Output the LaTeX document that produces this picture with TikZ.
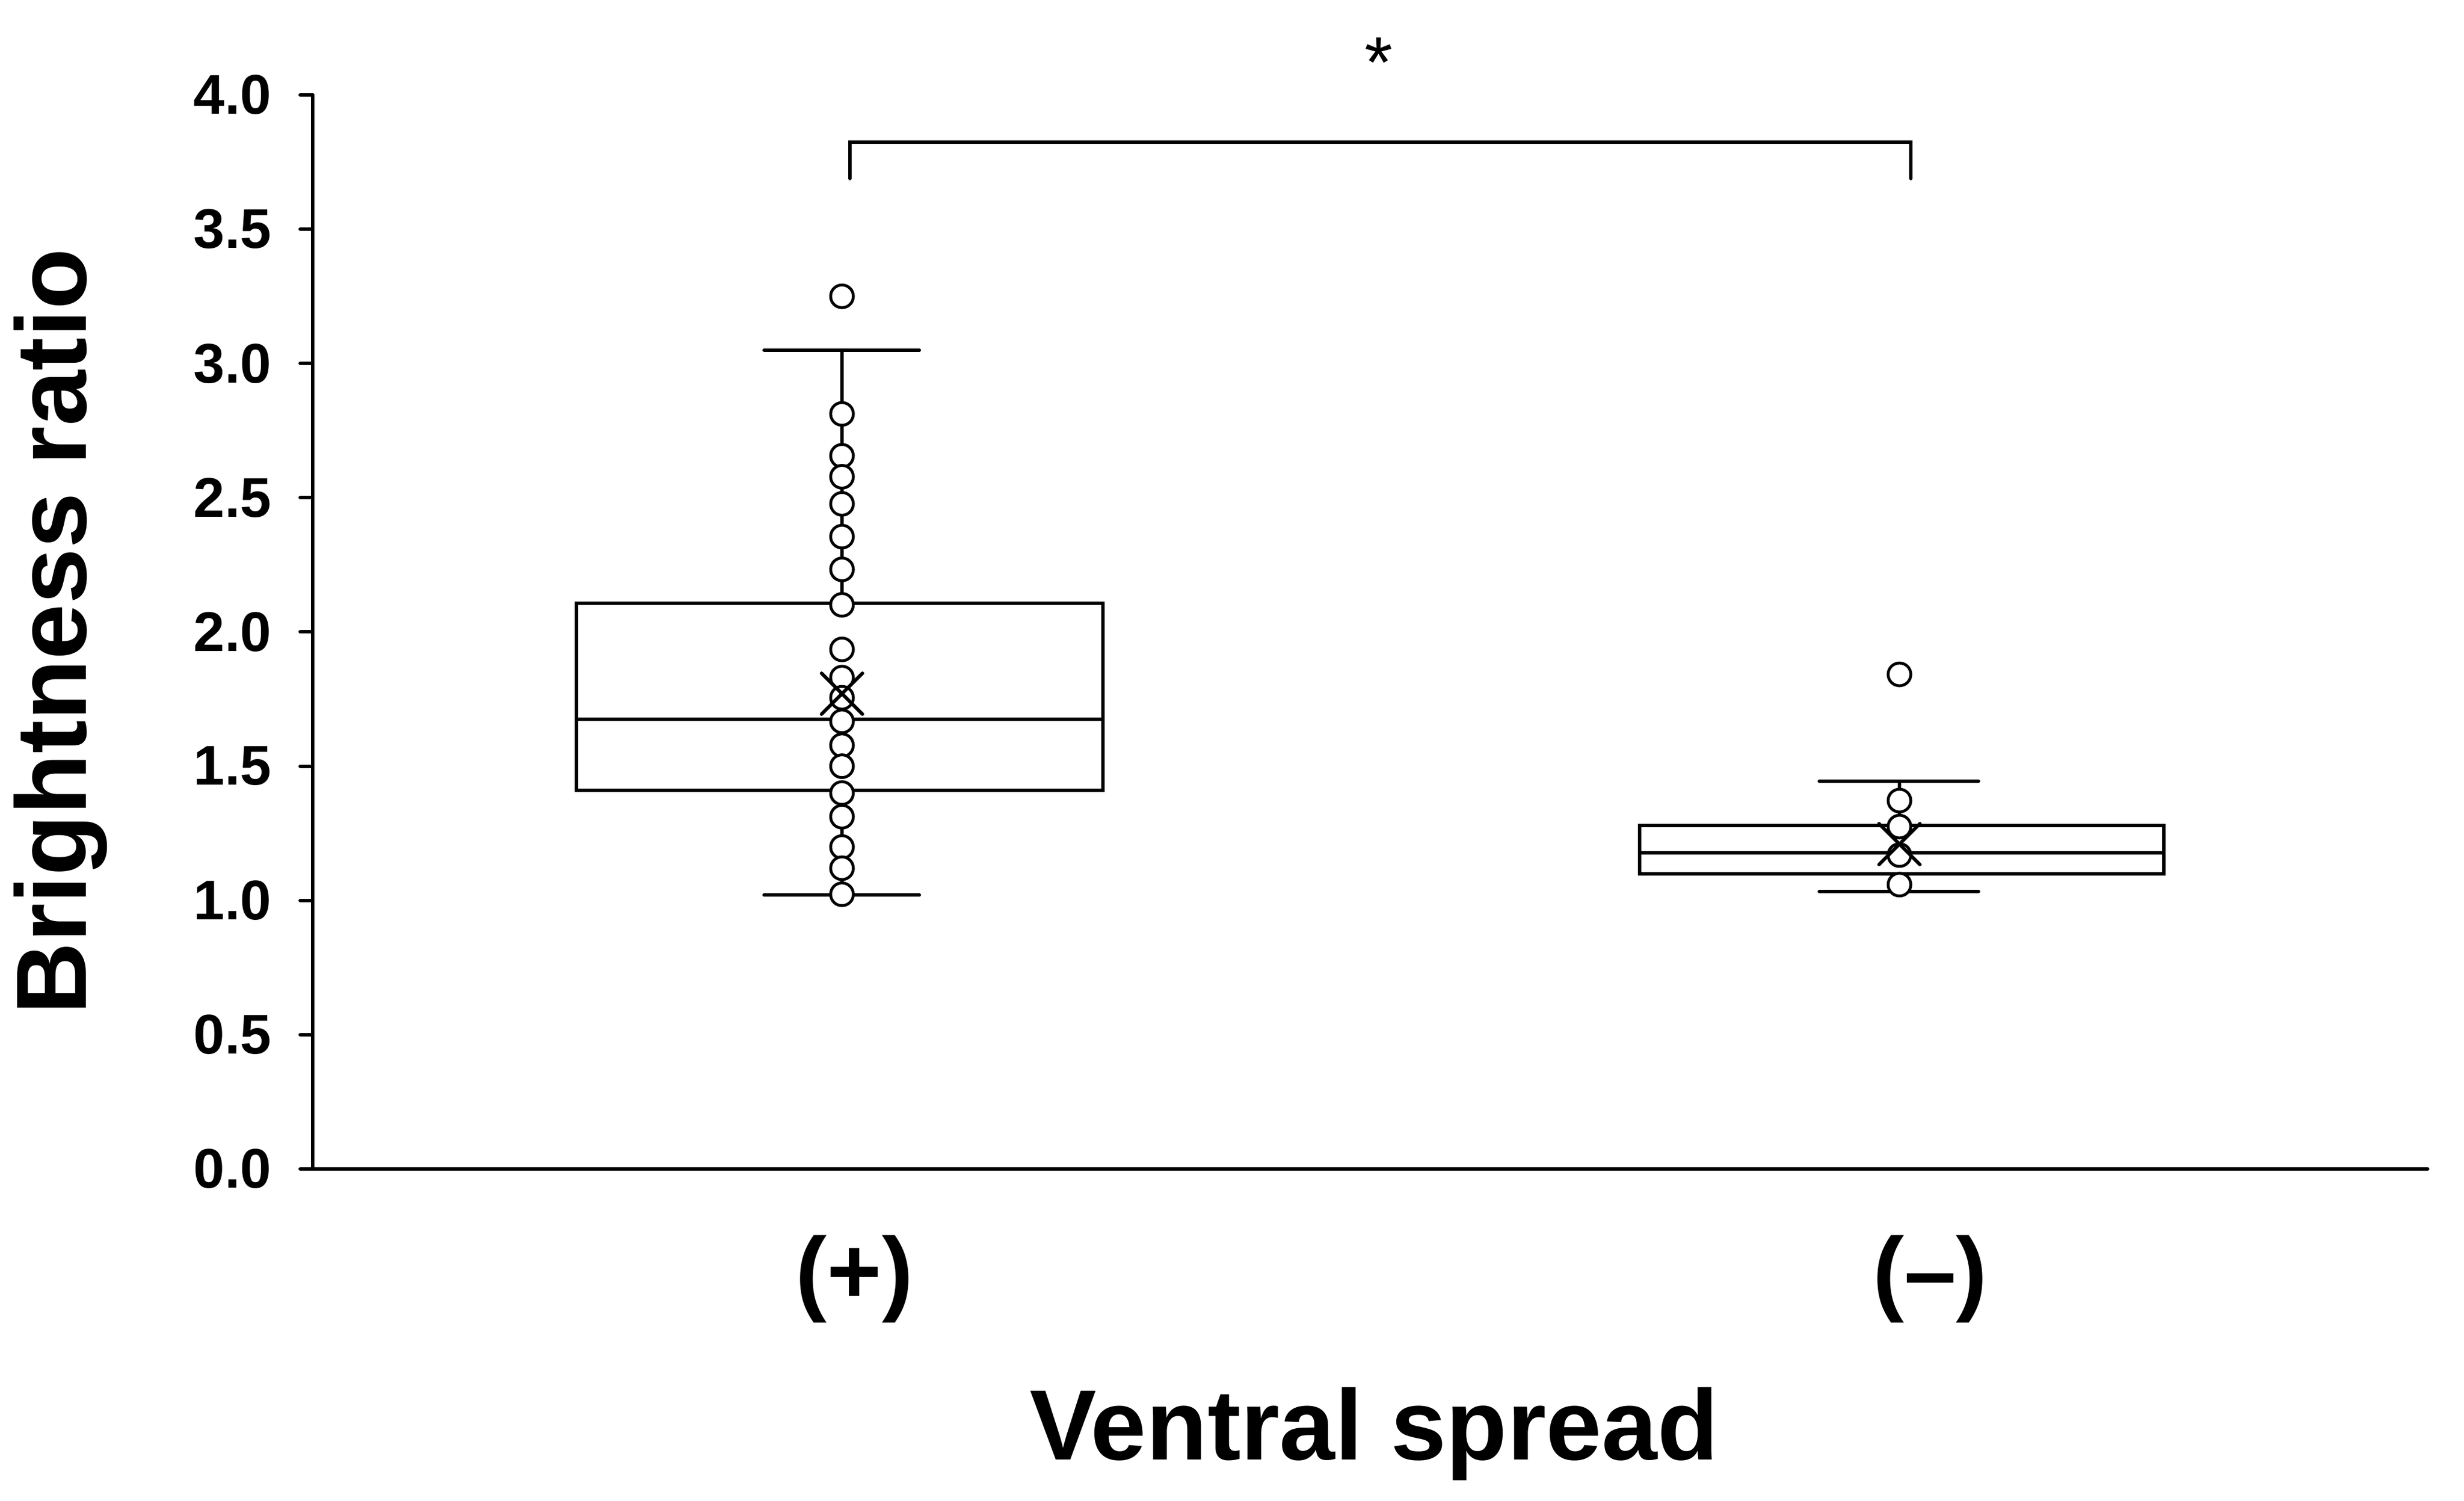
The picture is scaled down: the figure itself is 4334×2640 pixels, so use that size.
\documentclass[tikz,border=0pt]{standalone}
\usepackage{fontspec}
\setmainfont{Liberation Sans}
\begin{document}
\begin{tikzpicture}[x=0.1mm,y=-0.1mm,line cap=round,
  ln/.style={line width=0.6mm},
  pt/.style={line width=0.5mm,fill=white},
  tl/.style={anchor=east,font=\fontsize{28}{30}\selectfont\bfseries}]
\useasboundingbox (0,0) rectangle (4334,2640);
\def\V#1{2056-472.25*#1}
% axes
\draw[ln] (550,{\V{4}}) -- (550,2056) -- (4270,2056);
\foreach \v in {0.0,0.5,1.0,1.5,2.0,2.5,3.0,3.5,4.0}{
  \draw[ln] (528,{\V{\v}}) -- (550,{\V{\v}});
  \node[tl] (t\v) at (490,{\V{\v}}) {\v};
}
\node[rotate=90,font=\fontsize{50}{52}\selectfont\bfseries] (ylab) at (106,1111) {Brightness ratio};
\node[font=\fontsize{47}{50}\selectfont\bfseries] (g1) at (1503,2250) {(+)};
\node[font=\fontsize{47}{50}\selectfont\bfseries] (g2) at (3395,2250) {(--)};
\node[font=\fontsize{50}{52}\selectfont\bfseries] (xlab) at (2417,2522) {Ventral spread};
% bracket
\draw[ln] (1495,314) -- (1495,250) -- (3361,250) -- (3361,314);
\node[font=\fontsize{36}{36}\selectfont] (star) at (2425,110) {*};
% box 1
\draw[ln] (1481,{\V{3.05}}) -- (1481,{\V{2.107}});
\draw[ln] (1481,{\V{1.41}}) -- (1481,{\V{1.02}});
\draw[ln] (1344,{\V{3.05}}) -- (1617,{\V{3.05}});
\draw[ln] (1344,{\V{1.02}}) -- (1617,{\V{1.02}});
\draw[ln] (1014,{\V{1.41}}) rectangle (1940,{\V{2.107}});
\draw[ln] (1014,{\V{1.675}}) -- (1940,{\V{1.675}});
\foreach \v in {3.25,2.812,2.656,2.578,2.477,2.355,2.233,2.101,1.935,1.83,1.755,1.667,1.578,1.50,1.40,1.312,1.199,1.12,1.023}
  \draw[pt] (1481,{\V{\v}}) circle (20);
\draw[ln] (1445,{\V{1.77}-36}) -- (1517,{\V{1.77}+36}) (1445,{\V{1.77}+36}) -- (1517,{\V{1.77}-36});
% box 2
\draw[ln] (3341,{\V{1.444}}) -- (3341,{\V{1.279}});
\draw[ln] (3341,{\V{1.10}}) -- (3341,{\V{1.033}});
\draw[ln] (3200,{\V{1.444}}) -- (3480,{\V{1.444}});
\draw[ln] (3200,{\V{1.033}}) -- (3480,{\V{1.033}});
\draw[ln] (2884,{\V{1.10}}) rectangle (3806,{\V{1.279}});
\draw[ln] (2884,{\V{1.178}}) -- (3806,{\V{1.178}});
\foreach \v in {1.842,1.372,1.275,1.169,1.059}
  \draw[pt] (3341,{\V{\v}}) circle (20);
\draw[ln] (3305,{\V{1.21}-36}) -- (3377,{\V{1.21}+36}) (3305,{\V{1.21}+36}) -- (3377,{\V{1.21}-36});
\end{tikzpicture}
\end{document}
